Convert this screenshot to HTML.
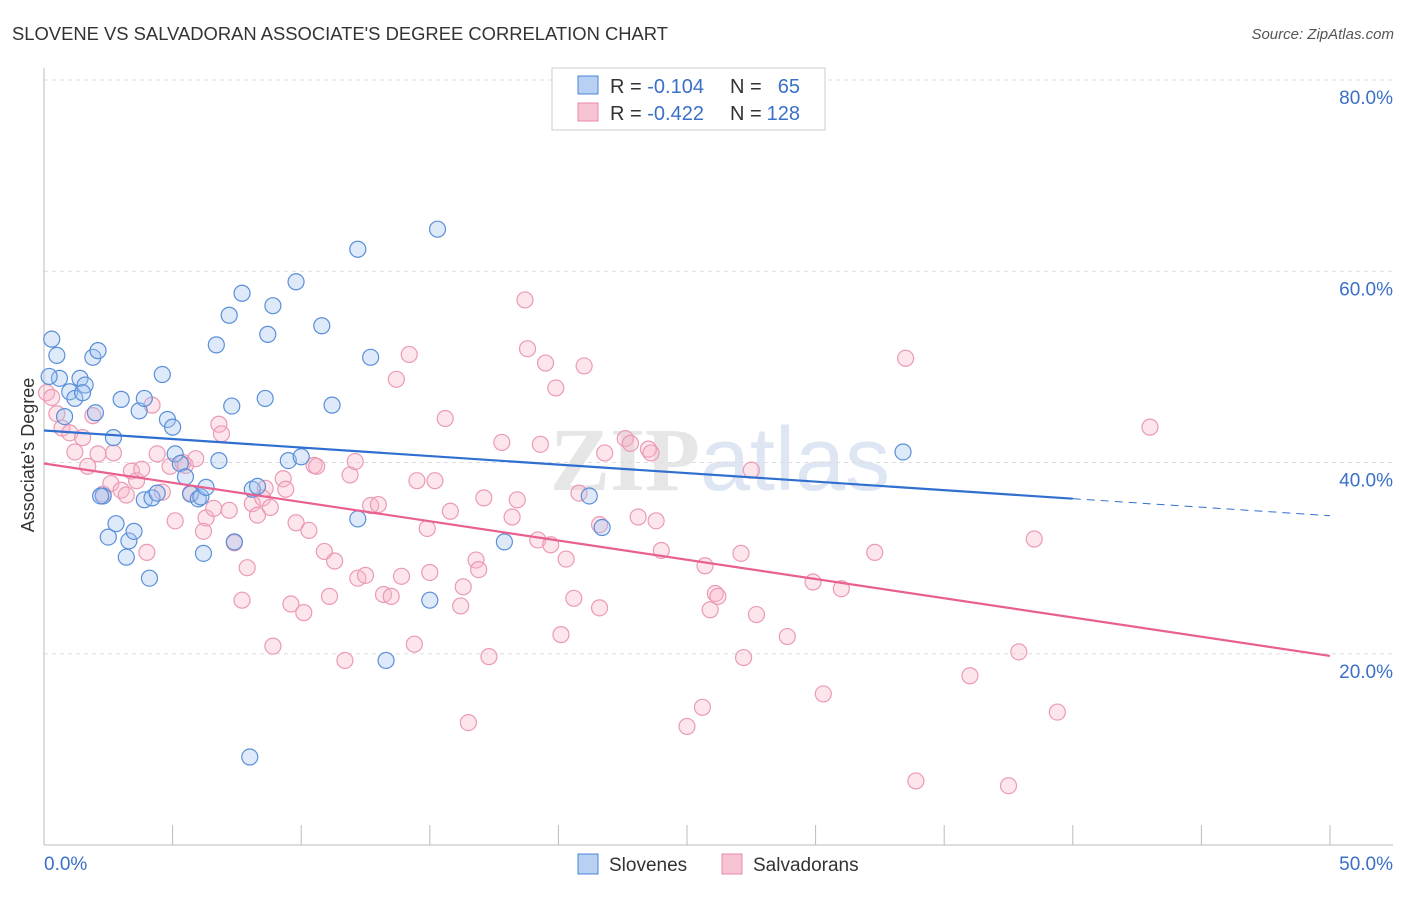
<!DOCTYPE html>
<html><head><meta charset="utf-8"><style>
body{margin:0;background:#fff;font-family:"Liberation Sans",sans-serif}
</style></head><body>
<svg width="1406" height="892" xmlns="http://www.w3.org/2000/svg" id="svg">
<text x="12" y="40" font-size="18" fill="#333" textLength="656" lengthAdjust="spacingAndGlyphs">SLOVENE VS SALVADORAN ASSOCIATE'S DEGREE CORRELATION CHART</text>
<text x="1394" y="39" font-size="15" fill="#555" font-style="italic" text-anchor="end">Source: ZipAtlas.com</text>
<text x="720" y="490" font-size="90" fill="#e6e6e6" text-anchor="middle" font-family="Liberation Serif" font-weight="bold">ZIP<tspan fill="#dde6f2" font-family="Liberation Sans" font-weight="normal">atlas</tspan></text>
<g id="grid"></g>
<g id="pts"></g>
<g id="trend"></g>
<text x="34" y="455" font-size="18" fill="#333" text-anchor="middle" transform="rotate(-90 34 455)">Associate's Degree</text>
<g>
<rect x="552" y="68" width="273" height="62" fill="#fff" stroke="#ccc"/>
<rect x="578" y="76" width="20" height="18" fill="#b8d0f2" stroke="#4a85d6"/>
<rect x="578" y="103" width="20" height="18" fill="#f8c4d4" stroke="#e88aa8"/>
<text x="610" y="93" font-size="20" fill="#333">R = <tspan fill="#3a70c8">-0.104</tspan></text>
<text x="730" y="93" font-size="20" fill="#333">N =</text>
<text x="800" y="93" font-size="20" fill="#3a70c8" text-anchor="end">65</text>
<text x="610" y="120" font-size="20" fill="#333">R = <tspan fill="#3a70c8">-0.422</tspan></text>
<text x="730" y="120" font-size="20" fill="#333">N =</text>
<text x="800" y="120" font-size="20" fill="#3a70c8" text-anchor="end">128</text>
</g>
<g>
<rect x="578" y="854" width="20" height="20" fill="#b8d0f2" stroke="#4a85d6"/>
<text x="609" y="871" font-size="19" fill="#333">Slovenes</text>
<rect x="722" y="854" width="20" height="20" fill="#f8c4d4" stroke="#e88aa8"/>
<text x="753" y="871" font-size="19" fill="#333">Salvadorans</text>
</g>
</svg>
<script>
const yTicks=[20,40,60,80];
const xTickLabels=["0.0%","50.0%"];
const blueX=[0.3,0.5,0.6,0.2,0.8,1.0,1.2,1.4,1.6,1.5,1.9,2.1,2.0,2.7,3.0,3.7,3.9,4.6,4.8,5.0,5.1,5.3,5.5,5.7,6.0,6.1,6.3,6.2,6.8,6.7,7.2,7.3,7.7,7.4,8.1,8.3,8.6,8.7,8.9,9.5,9.8,10.0,10.8,11.2,12.2,12.7,12.2,13.3,15.0,15.3,17.9,21.2,21.7,33.4,8.0,2.3,2.2,2.5,2.8,3.2,3.3,3.5,4.1,3.9,4.2,4.4];
const blueY=[52.9,51.2,48.8,49.0,44.8,47.4,46.7,48.8,48.1,47.3,51.0,51.7,45.2,42.6,46.6,45.4,46.7,49.2,44.5,43.7,40.9,39.9,38.5,36.7,36.2,36.4,37.4,30.5,40.2,52.3,55.4,45.9,57.7,31.7,37.2,37.5,46.7,53.4,56.4,40.2,58.9,40.6,54.3,46.0,62.3,51.0,34.1,19.3,25.6,64.4,31.7,36.5,33.2,41.1,9.2,36.5,36.5,32.2,33.6,30.1,31.8,32.8,27.9,36.1,36.3,36.8];
const pinkX=[0.1,0.5,0.7,1.0,1.2,1.5,1.7,1.9,2.1,2.3,2.6,2.7,3.0,3.2,3.4,3.6,3.8,4.0,4.2,4.4,
4.6,4.9,5.1,5.4,5.5,5.7,5.9,6.2,6.3,6.6,6.8,6.9,7.2,7.4,7.7,7.9,8.1,8.3,8.5,8.6,
8.8,8.9,9.3,9.4,9.6,9.8,10.1,10.3,10.5,10.6,10.9,11.1,11.3,11.7,11.9,12.1,12.2,12.5,12.7,13.0,
13.2,13.5,13.7,13.9,14.2,14.4,14.5,14.9,15.0,15.2,15.6,15.8,16.2,16.3,16.5,16.8,16.9,17.1,17.3,17.8,
18.2,18.4,18.7,18.8,19.2,19.3,19.5,19.7,19.9,20.1,20.3,20.6,20.8,21.0,21.6,21.6,21.8,22.6,22.8,23.1,
23.5,23.8,23.6,24.0,25.0,25.6,25.7,25.9,26.1,26.2,27.1,27.2,27.5,27.7,28.9,29.9,30.3,31.0,32.3,33.5,
33.9,36.0,37.5,37.9,38.5,39.4,43.0,0.3];
const pinkY=[47.3,45.1,43.6,43.1,41.1,42.6,39.6,44.9,40.9,36.7,37.8,41.0,37.1,36.6,39.1,38.1,39.3,30.6,46.0,40.9,
36.9,39.6,33.9,40.0,39.7,36.8,40.4,32.8,34.2,35.2,44.0,43.0,35.0,31.6,25.6,29.0,35.7,34.5,36.3,37.3,
35.3,20.8,38.3,37.2,25.2,33.7,24.3,32.9,39.7,39.6,30.7,26.0,29.7,19.3,38.7,40.1,27.9,28.2,35.5,35.6,
26.2,26.0,48.7,28.1,51.3,21.0,38.1,33.1,28.5,38.1,44.6,34.9,25.0,27.0,12.8,29.8,28.8,36.3,19.7,42.1,
34.3,36.1,57.0,51.9,31.9,41.9,50.4,31.4,47.8,22.0,29.9,25.8,36.8,50.1,33.5,24.8,41.0,42.5,42.0,34.3,
41.4,33.9,41.0,30.8,12.4,14.4,29.2,24.6,26.3,26.0,30.5,19.6,39.2,24.1,21.8,27.5,15.8,26.8,30.6,50.9,
6.7,17.7,6.2,20.2,32.0,13.9,43.7,46.8];
const NS="http://www.w3.org/2000/svg";
const X0=44,X1=1330,Y0=845,Y80=80;
function sx(v){return X0+(X1-X0)*v/50;}
function sy(v){return Y0-(Y0-Y80)*v/80;}
function mk(t,a,p){const e=document.createElementNS(NS,t);for(const k in a)e.setAttribute(k,a[k]);p.appendChild(e);return e;}
const g=document.getElementById('grid');
yTicks.forEach(t=>{
 const l=mk('line',{x1:X0,x2:1393,y1:sy(t),y2:sy(t),stroke:'#ddd','stroke-dasharray':'4,4'},g);
 
 
 const tx=mk('text',{x:1393,y:sy(t)+24,'font-size':19,fill:'#3a70c8','text-anchor':'end'},g);
 tx.textContent=t.toFixed(1)+'%';
 
 
});
const ax=mk('line',{x1:X0,x2:X0,y1:68,y2:Y0,stroke:'#bbb'},g);


const bx=mk('line',{x1:X0,x2:1393,y1:Y0,y2:Y0,stroke:'#bbb'},g);


for(let i=0;i<=10;i++){
 const t=mk('line',{x1:sx(i*5),x2:sx(i*5),y1:Y0-20,y2:Y0,stroke:'#bbb'},g);
 
 
}
[[0,'start',44],[50,'end',1393]].forEach((d,i)=>{
 const tx=mk('text',{x:d[2],y:870,'font-size':19,fill:'#3a70c8','text-anchor':d[1]},g);
 tx.textContent=xTickLabels[i];
 
 
});
const p=document.getElementById('pts');
const nP=Math.min(pinkX.length,pinkY.length);
for(let i=0;i<nP;i++){
 const c=mk('circle',{cx:sx(pinkX[i]),cy:sy(pinkY[i]),r:8,fill:'rgba(248,180,200,0.35)',stroke:'#eb9ab4','stroke-width':1.2},p);
 
 
}
const nB=Math.min(blueX.length,blueY.length);
for(let i=0;i<nB;i++){
 const c=mk('circle',{cx:sx(blueX[i]),cy:sy(blueY[i]),r:8,fill:'rgba(160,195,240,0.35)',stroke:'#5a8fd8','stroke-width':1.2},p);
 
 
}
const tr=document.getElementById('trend');
function fit(xs,ys,n){let mx=0,my=0;for(let i=0;i<n;i++){mx+=xs[i];my+=ys[i];}mx/=n;my/=n;let a=0,b=0;for(let i=0;i<n;i++){a+=(xs[i]-mx)*(ys[i]-my);b+=(xs[i]-mx)**2;}const s=a/b;return [my-s*mx,s];}
const bf=fit(blueX,blueY,nB),pf=fit(pinkX,pinkY,nP);
let l=mk('line',{x1:sx(0),y1:sy(bf[0]),x2:sx(40),y2:sy(bf[0]+bf[1]*40),stroke:'#2f6fd0','stroke-width':2.2},tr);


l=mk('line',{x1:sx(40),y1:sy(bf[0]+bf[1]*40),x2:sx(50),y2:sy(bf[0]+bf[1]*50),stroke:'#2f6fd0','stroke-width':1,'stroke-dasharray':'8,6'},tr);


l=mk('line',{x1:sx(0),y1:sy(pf[0]),x2:sx(50),y2:sy(pf[0]+pf[1]*50),stroke:'#e8608e','stroke-width':2.2},tr);


</script>
</body></html>
